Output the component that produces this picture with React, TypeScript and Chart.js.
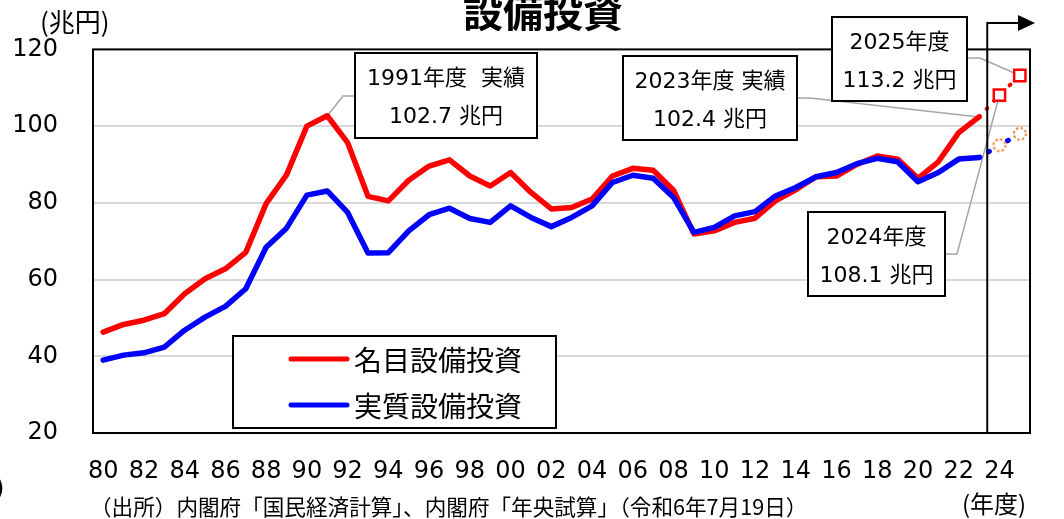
import { useEffect, useRef } from 'react';
import { Chart, registerables } from 'chart.js';

Chart.register(...registerables);

const W = 1064;
const H = 519;

// Fiscal years 1980–2025 (two-digit labels)
const years = [
  '80', '81', '82', '83', '84', '85', '86', '87', '88', '89',
  '90', '91', '92', '93', '94', '95', '96', '97', '98', '99',
  '00', '01', '02', '03', '04', '05', '06', '07', '08', '09',
  '10', '11', '12', '13', '14', '15', '16', '17', '18', '19',
  '20', '21', '22', '23', '24', '25',
];

// 名目設備投資 (兆円), FY1980–FY2023 actuals
const nominal = [
  46.3, 48.3, 49.4, 51.1, 56.3, 60.2, 62.8, 67.1, 79.8, 87.3,
  100.0, 102.7, 95.7, 81.7, 80.5, 85.9, 89.6, 91.2, 87.0, 84.4,
  87.9, 82.7, 78.4, 78.8, 81.0, 87.0, 89.0, 88.5, 83.3, 71.9,
  72.7, 74.9, 76.0, 80.5, 83.4, 86.8, 87.0, 90.0, 92.2, 91.4,
  86.4, 90.7, 98.3, 102.4,
];

// 実質設備投資 (兆円), FY1980–FY2023 actuals
const real = [
  39.0, 40.3, 40.9, 42.4, 46.8, 50.2, 53.0, 57.6, 68.4, 73.4,
  82.0, 83.1, 77.5, 66.9, 67.0, 72.7, 76.9, 78.6, 75.9, 74.9,
  79.2, 76.2, 73.8, 76.2, 79.2, 85.3, 87.2, 86.4, 81.4, 72.3,
  73.6, 76.6, 77.7, 81.8, 84.0, 86.8, 87.9, 90.2, 91.6, 90.7,
  85.5, 87.9, 91.4, 91.8,
];

// 年央試算 outlook for FY2024, FY2025
const nominalOutlook = [108.1, 113.2];
const realOutlook = [95.0, 98.0];

const yMin = 20;
const yMax = 120;
const yStep = 20;

const LATIN = '"DejaVu Sans", "Noto Sans CJK JP", sans-serif';
const CJK = '"Noto Sans CJK JP", "DejaVu Sans", sans-serif';

const lastActual = nominal.length - 1;

// Outlook series start from the last actual value so the dotted line connects.
function outlookSeries(actual: number[], outlook: number[]) {
  return years.map((_, i) => {
    if (i < lastActual) return null;
    if (i === lastActual) return actual[lastActual];
    const v = outlook[i - lastActual - 1];
    return v === undefined ? null : v;
  });
}

// Callout boxes: [left, top, width, height], leader start and elbow
const callouts = [
  { index: 11, value: nominal[11], head: '1991年度  実績', box: [355, 53, 182, 85], from: [355, 96], elbow: [343, 96] },
  { index: lastActual, value: nominal[lastActual], head: '2023年度 実績', box: [623, 56, 174, 84], from: [797, 98], elbow: [810, 98] },
  { index: lastActual + 2, value: nominalOutlook[1], head: '2025年度', box: [832, 17, 135, 84], from: [967, 58], elbow: [980, 58] },
  { index: lastActual + 1, value: nominalOutlook[0], head: '2024年度', box: [808, 212, 137, 84], from: [945, 254], elbow: [957, 254] },
];

const legendItems = [
  { label: '名目設備投資', color: '#ff0000' },
  { label: '実質設備投資', color: '#0000ff' },
];

function dottedRing(): HTMLCanvasElement {
  const c = document.createElement('canvas');
  c.width = 16;
  c.height = 16;
  const g = c.getContext('2d')!;
  g.beginPath();
  g.arc(8, 8, 6, 0, Math.PI * 2);
  g.fillStyle = '#ffffff';
  g.fill();
  g.setLineDash([2.4, 2.3]);
  g.lineWidth = 2;
  g.strokeStyle = '#ed7d31';
  g.stroke();
  return c;
}

const overlay = {
  id: 'overlay',
  beforeDatasetsDraw(chart: any) {
    const { ctx, scales } = chart;
    const x = scales.x;
    const y = scales.y;
    ctx.save();
    ctx.strokeStyle = '#a6a6a6';
    ctx.lineWidth = 1.5;
    for (const c of callouts) {
      ctx.beginPath();
      ctx.moveTo(c.from[0], c.from[1]);
      ctx.lineTo(c.elbow[0], c.elbow[1]);
      ctx.lineTo(x.getPixelForValue(c.index), y.getPixelForValue(c.value));
      ctx.stroke();
    }
    ctx.restore();
  },
  afterDatasetsDraw(chart: any) {
    const { ctx, chartArea: a, scales } = chart;
    const x = scales.x;
    ctx.save();

    // plot frame
    ctx.strokeStyle = '#000';
    ctx.lineWidth = 2;
    ctx.strokeRect(a.left, a.top, a.right - a.left, a.bottom - a.top);

    // outlook divider with arrow
    const divX = (x.getPixelForValue(lastActual) + x.getPixelForValue(lastActual + 1)) / 2 - 2;
    const arrowY = 23;
    ctx.beginPath();
    ctx.moveTo(divX, a.bottom);
    ctx.lineTo(divX, arrowY);
    ctx.lineTo(1019, arrowY);
    ctx.stroke();
    ctx.beginPath();
    ctx.moveTo(1018, arrowY - 8);
    ctx.lineTo(1035, arrowY);
    ctx.lineTo(1018, arrowY + 8);
    ctx.closePath();
    ctx.fillStyle = '#000';
    ctx.fill();

    // legend
    const lg = { x: 233, y: 336, w: 323, h: 92 };
    ctx.fillStyle = '#fff';
    ctx.fillRect(lg.x, lg.y, lg.w, lg.h);
    ctx.strokeRect(lg.x, lg.y, lg.w, lg.h);
    legendItems.forEach((it, i) => {
      const ly = 359 + i * 46;
      ctx.beginPath();
      ctx.lineCap = 'round';
      ctx.lineWidth = 5;
      ctx.strokeStyle = it.color;
      ctx.moveTo(291, ly);
      ctx.lineTo(347, ly);
      ctx.stroke();
      ctx.fillStyle = '#000';
      ctx.font = `28px ${CJK}`;
      ctx.textAlign = 'left';
      ctx.textBaseline = 'middle';
      ctx.fillText(it.label, 354, ly + 1);
    });

    // callout boxes
    ctx.lineCap = 'butt';
    for (const c of callouts) {
      const [bx, by, bw, bh] = c.box;
      ctx.fillStyle = '#fff';
      ctx.fillRect(bx, by, bw, bh);
      ctx.strokeStyle = '#000';
      ctx.lineWidth = 2;
      ctx.strokeRect(bx, by, bw, bh);
      ctx.fillStyle = '#000';
      ctx.font = `22px ${LATIN}`;
      ctx.textAlign = 'center';
      ctx.textBaseline = 'middle';
      ctx.fillText(c.head, bx + bw / 2, by + 26);
      ctx.fillText(`${c.value.toFixed(1)} 兆円`, bx + bw / 2, by + 64);
    }
    ctx.restore();
  },
  afterDraw(chart: any) {
    const { ctx } = chart;
    ctx.save();
    ctx.fillStyle = '#000';
    ctx.textBaseline = 'alphabetic';

    ctx.font = `bold 40px ${CJK}`;
    ctx.textAlign = 'center';
    ctx.fillText('設備投資', 543, 27);

    ctx.textAlign = 'left';
    ctx.textBaseline = 'middle';
    ctx.font = `26px ${CJK}`;
    ctx.fillText('(兆円)', 40, 22);
    ctx.font = `24px ${LATIN}`;
    ctx.fillText(')', -5, 490);

    ctx.font = `21.6px ${CJK}`;
    ctx.fillText('（出所）内閣府「国民経済計算」、内閣府「年央試算」（令和6年7月19日）', 90, 507);
    ctx.font = `24px ${CJK}`;
    ctx.fillText('(年度)', 962, 504);
    ctx.restore();
  },
};

export default function App() {
  const ref = useRef<HTMLCanvasElement>(null);

  useEffect(() => {
    const canvas = ref.current;
    if (!canvas) return;
    const ring = dottedRing();

    const chart = new Chart(canvas, {
      type: 'line',
      data: {
        labels: years,
        datasets: [
          {
            label: '名目設備投資',
            data: nominal,
            borderColor: '#ff0000',
            borderWidth: 5.5,
            pointRadius: 0,
            tension: 0,
            borderJoinStyle: 'round',
            borderCapStyle: 'round',
            order: 3,
          },
          {
            label: '実質設備投資',
            data: real,
            borderColor: '#0000ff',
            borderWidth: 5.5,
            pointRadius: 0,
            tension: 0,
            borderJoinStyle: 'round',
            borderCapStyle: 'round',
            order: 2,
          },
          {
            label: '名目設備投資（見通し）',
            data: outlookSeries(nominal, nominalOutlook),
            borderColor: '#ff0000',
            borderWidth: 4,
            borderDash: [1, 10],
            borderCapStyle: 'round',
            tension: 0,
            pointStyle: 'rect',
            pointRadius: (c: any) => (c.dataIndex > lastActual ? 8 : 0),
            pointBorderColor: '#ff0000',
            pointBackgroundColor: '#ffffff',
            pointBorderWidth: 2.5,
            order: 1,
          },
          {
            label: '実質設備投資（見通し）',
            data: outlookSeries(real, realOutlook),
            borderColor: '#0000ff',
            borderWidth: 5,
            borderDash: [1, 10],
            borderCapStyle: 'round',
            tension: 0,
            pointStyle: (c: any) => (c.dataIndex > lastActual ? ring : 'circle'),
            pointRadius: (c: any) => (c.dataIndex > lastActual ? 6 : 0),
            order: 0,
          },
        ],
      },
      options: {
        responsive: false,
        devicePixelRatio: 1,
        animation: false,
        events: [],
        layout: { padding: { top: 48, right: 34, bottom: 0, left: 0 } },
        plugins: {
          legend: { display: false },
          tooltip: { enabled: false },
          title: { display: false },
        },
        scales: {
          x: {
            type: 'category',
            offset: true,
            grid: { display: false, drawTicks: false },
            border: { display: false },
            ticks: {
              autoSkip: false,
              maxRotation: 0,
              minRotation: 0,
              padding: 24,
              color: '#000',
              font: { family: LATIN, size: 24 },
              callback: function (this: any, v: any, i: number) {
                return i % 2 === 0 ? this.getLabelForValue(v) : '';
              },
            },
            afterFit: (s: any) => {
              s.height = 86;
            },
          },
          y: {
            min: yMin,
            max: yMax,
            border: { display: false },
            grid: {
              drawTicks: false,
              lineWidth: 2,
              color: (c: any) =>
                c.tick && (c.tick.value === yMin || c.tick.value === yMax) ? 'rgba(0,0,0,0)' : '#d9d9d9',
            },
            ticks: {
              stepSize: yStep,
              padding: 35,
              color: '#000',
              font: { family: LATIN, size: 24 },
            },
            afterFit: (s: any) => {
              s.width = 93;
            },
          },
        },
      },
      plugins: [overlay],
    } as any);

    return () => chart.destroy();
  }, []);

  return (
    <div style={{ position: 'absolute', left: 0, top: 0, width: W, height: H, background: '#fff' }}>
      <canvas ref={ref} width={W} height={H} style={{ display: 'block', width: W, height: H }} />
    </div>
  );
}
